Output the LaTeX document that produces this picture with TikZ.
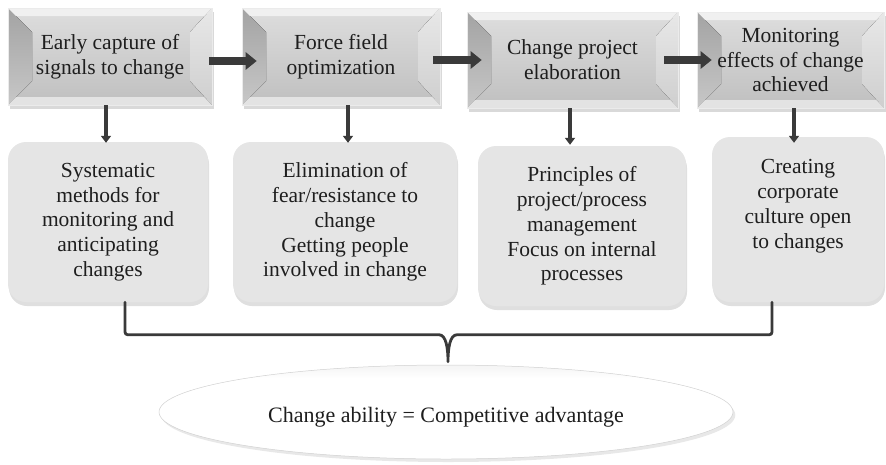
\documentclass[tikz,border=0pt]{standalone}
\usepackage{fontspec}
\setmainfont{Liberation Serif}
\usetikzlibrary{arrows.meta,shadows,shapes.geometric}
\pgfdeclareverticalshading{lensv}{100bp}{color(0bp)=(black!22); color(8bp)=(black!8); color(25bp)=(white); color(68bp)=(white); color(84bp)=(black!10); color(100bp)=(black!30)}
\definecolor{arrowc}{HTML}{3A3A3A}
\definecolor{txtc}{HTML}{1E1E1E}
\begin{document}
\begin{tikzpicture}[x=1pt,y=-1pt,
  font=\fontsize{21.5}{24.8}\selectfont,
  txt/.style={text=txtc, align=center, inner sep=0pt},
  topbox/.style={txt, draw=black!8, line width=0.6pt, top color=black!13, bottom color=black!25,
    drop shadow={shadow xshift=1.5pt, shadow yshift=-3.5pt, opacity=0.3},
    path picture={
      \fill[top color=black!36, bottom color=black!22]
        (path picture bounding box.north west) -- ([shift={(24pt,-24pt)}]path picture bounding box.north west)
        -- ([shift={(24pt,24pt)}]path picture bounding box.south west) -- (path picture bounding box.south west) -- cycle;
      \fill[top color=black!9, bottom color=black!19]
        (path picture bounding box.north east) -- ([shift={(-22pt,-24pt)}]path picture bounding box.north east)
        -- ([shift={(-22pt,24pt)}]path picture bounding box.south east) -- (path picture bounding box.south east) -- cycle;
      \fill[black!6]
        (path picture bounding box.north west) -- (path picture bounding box.north east)
        -- ([shift={(-8pt,-8pt)}]path picture bounding box.north east) -- ([shift={(8pt,-8pt)}]path picture bounding box.north west) -- cycle;
      \fill[black!11]
        (path picture bounding box.south west) -- (path picture bounding box.south east)
        -- ([shift={(-8pt,8pt)}]path picture bounding box.south east) -- ([shift={(8pt,8pt)}]path picture bounding box.south west) -- cycle;
    }},
  rbox/.style={txt, fill=black!10, rounded corners=18pt,
    drop shadow={shadow xshift=1pt, shadow yshift=-4pt, opacity=0.25}},
  lens/.style={txt, ellipse, shading=lensv, draw=black!18, line width=0.5pt,
    drop shadow={shadow yshift=-3pt, opacity=0.18}},
  harrow/.style={draw=arrowc, line width=8pt, -{Triangle[length=11pt,width=17pt,fill=arrowc]}},
  varrow/.style={draw=arrowc, line width=4pt, -{Triangle[length=7pt,width=10pt,fill=arrowc]}},
  bracket/.style={draw=arrowc, line width=2.8pt, line join=round, line cap=round}
]
\useasboundingbox (0,0) rectangle (886,464);

% top beveled boxes
\node[topbox, minimum width=204pt, minimum height=97pt] (t1) at (110,56.5) {Early capture of\\signals to change};
\node[topbox, minimum width=198pt, minimum height=97pt] (t2) at (341,56.5) {Force field\\optimization};
\node[topbox, minimum width=211pt, minimum height=96pt] (t3) at (572.5,60) {Change project\\elaboration};
\node[topbox, minimum width=187pt, minimum height=96pt] (t4) at (790.5,60) {Monitoring\\effects of change\\achieved};

% rounded boxes
\node[rbox, minimum width=200pt, minimum height=160pt] (a) at (108,222) {Systematic\\methods for\\monitoring and\\anticipating\\changes};
\node[rbox, minimum width=224pt, minimum height=160pt] (b) at (345,222) {Elimination of\\fear/resistance to\\change\\Getting people\\involved in change};
\node[rbox, minimum width=208pt, minimum height=160pt] (c) at (582,226) {Principles of\\project/process\\management\\Focus on internal\\processes};
\node[rbox, minimum width=172pt, minimum height=165pt] (d) at (798,219.5) {};
\node[txt] (dl) at (798,206) {Creating\\corporate\\culture open\\to changes};

% ellipse
\node[lens, minimum width=574pt, minimum height=94pt, text height=26pt, text depth=4.5pt, font=\fontsize{22}{26}\selectfont] (e) at (446,412) {Change ability = Competitive advantage};

% horizontal arrows
\draw[harrow] ([shift={(-3pt,-4.5pt)}]t1.east) -- ([shift={(15pt,-4.5pt)}]t2.west);
\draw[harrow] ([shift={(-7pt,-3.5pt)}]t2.east) -- ([xshift=15pt]t3.west);
\draw[harrow] ([xshift=-14pt]t3.east) -- ([xshift=15pt]t4.west);

% vertical arrows
\draw[varrow] ([xshift=-4pt]t1.south) -- ([shift={(-2pt,-1pt)}]a.north);
\draw[varrow] ([xshift=7pt]t2.south) -- ([shift={(3pt,-1pt)}]b.north);
\draw[varrow] ([xshift=-2.5pt]t3.south) -- ([shift={(-12pt,1pt)}]c.north);
\draw[varrow] ([xshift=3.5pt]t4.south) -- ([shift={(-4pt,-6pt)}]d.north);

% bracket
\coordinate (bl) at ([xshift=17pt]a.south);
\coordinate (br) at ([xshift=-26pt]d.south);
\coordinate (bm) at ([shift={(2pt,3pt)}]e.north);
\coordinate (bh) at ([yshift=30pt]e.north);
\coordinate (bhl) at (bl |- bh);
\coordinate (bhr) at (br |- bh);
\coordinate (bhm) at (bm |- bh);
\draw[bracket] (bl) -- ([yshift=6pt]bhl) .. controls (bhl) .. ([xshift=6pt]bhl)
  -- ([xshift=-9pt]bhm) .. controls ([xshift=-2pt]bhm) and ([yshift=14pt]bm) .. (bm)
  .. controls ([yshift=14pt]bm) and ([xshift=2pt]bhm) .. ([xshift=9pt]bhm)
  -- ([xshift=-6pt]bhr) .. controls (bhr) .. ([yshift=6pt]bhr) -- (br);
\end{tikzpicture}
\end{document}
